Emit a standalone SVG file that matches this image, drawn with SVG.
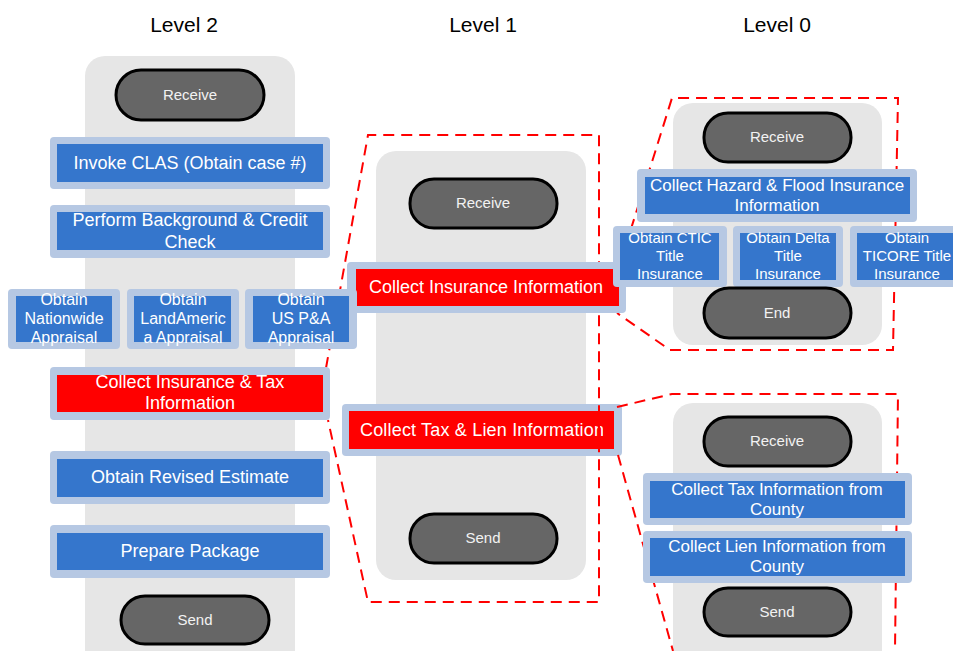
<svg xmlns="http://www.w3.org/2000/svg" width="953" height="651" viewBox="0 0 953 651">
<defs>
<style>
.panel{fill:#e6e6e6}
.pill{fill:#666666;stroke:#000;stroke-width:3}
.pt{font-family:"Liberation Sans",Arial,sans-serif;font-size:15px;fill:#f2f2f2;text-anchor:middle}
.outer{fill:#b6c8e3}
.blue{fill:#3576cc}
.red{fill:#ff0000}
.t18{font-family:"Liberation Sans",Arial,sans-serif;font-size:18px;fill:#fff;text-anchor:middle}
.t17{font-family:"Liberation Sans",Arial,sans-serif;font-size:17px;fill:#fff;text-anchor:middle}
.t16{font-family:"Liberation Sans",Arial,sans-serif;font-size:16px;fill:#fff;text-anchor:middle}
.t15{font-family:"Liberation Sans",Arial,sans-serif;font-size:15px;fill:#fff;text-anchor:middle}
.hdr{font-family:"Liberation Sans",Arial,sans-serif;font-size:21px;fill:#000;text-anchor:middle}
.dash{fill:none;stroke:#ff0000;stroke-width:2;stroke-dasharray:11 7}
</style>
<clipPath id="clipTL"><rect x="340" y="400" width="263" height="60"/></clipPath>
</defs>
<rect width="953" height="651" fill="#fff"/>

<text class="hdr" x="184" y="32">Level 2</text>
<text class="hdr" x="483" y="32">Level 1</text>
<text class="hdr" x="777" y="32">Level 0</text>

<g id="panels">
<rect class="panel" x="85" y="56" width="210" height="620" rx="20"/>
<rect class="panel" x="376" y="151" width="210" height="429" rx="20"/>
<rect class="panel" x="673" y="103" width="209" height="242" rx="20"/>
<rect class="panel" x="673" y="403" width="209" height="270" rx="20"/>
</g>

<g id="l1-collect-tax-lien">
<rect class="outer" x="342" y="404" width="280" height="52" rx="4"/>
<rect class="red" x="349" y="411" width="265" height="38"/>
<text class="t18" x="482" y="436" clip-path="url(#clipTL)" textLength="244">Collect Tax &amp; Lien Information</text>
</g>

<g id="connectors">
<path class="dash" d="M326,368 L368,135 L599,135 L599,602 L368,602 L328,420"/>
<path class="dash" d="M620,264 L672,98 L898,98 L893,350 L670,350 L617,313"/>
<path class="dash" d="M617,407 L672,394 L898,394 L895,651"/>
<path class="dash" d="M618,455 L673,651"/>
</g>

<!-- Level 2 -->
<g id="l2-receive"><rect class="pill" x="116" y="70" width="148" height="50" rx="25"/><text class="pt" x="190" y="100">Receive</text></g>
<g id="l2-invoke-clas">
<rect class="outer" x="50" y="137" width="280" height="52" rx="4"/>
<rect class="blue" x="57" y="144" width="266" height="38"/>
<text class="t18" x="190" y="169">Invoke CLAS (Obtain case #)</text>
</g>
<g id="l2-background">
<rect class="outer" x="50" y="205" width="280" height="53" rx="4"/>
<rect class="blue" x="57" y="212" width="266" height="38"/>
<text class="t18" x="190" y="226">Perform Background &amp; Credit</text>
<text class="t18" x="190" y="248">Check</text>
</g>
<g id="l2-nationwide">
<rect class="outer" x="8" y="289" width="112" height="60" rx="4"/>
<rect class="blue" x="16" y="296" width="96" height="46"/>
<text class="t16" x="64" y="305">Obtain</text>
<text class="t16" x="64" y="324">Nationwide</text>
<text class="t16" x="64" y="343">Appraisal</text>
</g>
<g id="l2-landamerica">
<rect class="outer" x="127" y="289" width="112" height="60" rx="4"/>
<rect class="blue" x="134" y="296" width="97" height="46"/>
<text class="t16" x="183" y="305">Obtain</text>
<text class="t16" x="183" y="324">LandAmeric</text>
<text class="t16" x="183" y="343">a Appraisal</text>
</g>
<g id="l1-collect-insurance">
<rect class="outer" x="347" y="262" width="279" height="51" rx="4"/>
<rect class="red" x="356" y="269" width="263" height="37"/>
<text class="t18" x="486" y="293">Collect Insurance Information</text>
</g>
<g id="l2-uspa">
<rect class="outer" x="245" y="289" width="112" height="60" rx="4"/>
<rect class="blue" x="253" y="296" width="96" height="46"/>
<text class="t16" x="301" y="305">Obtain</text>
<text class="t16" x="301" y="324">US P&amp;A</text>
<text class="t16" x="301" y="343">Appraisal</text>
</g>
<g id="l2-collect-ins-tax">
<rect class="outer" x="50" y="367" width="280" height="53" rx="4"/>
<rect class="red" x="57" y="375" width="266" height="37"/>
<text class="t18" x="190" y="388">Collect Insurance &amp; Tax</text>
<text class="t18" x="190" y="409">Information</text>
</g>
<g id="l2-revised">
<rect class="outer" x="50" y="451" width="280" height="53" rx="4"/>
<rect class="blue" x="57" y="459" width="266" height="38"/>
<text class="t18" x="190" y="483">Obtain Revised Estimate</text>
</g>
<g id="l2-prepare">
<rect class="outer" x="50" y="525" width="280" height="53" rx="4"/>
<rect class="blue" x="57" y="533" width="266" height="37"/>
<text class="t18" x="190" y="557">Prepare Package</text>
</g>
<g id="l2-send"><rect class="pill" x="121" y="596" width="148" height="48" rx="24"/><text class="pt" x="195" y="625">Send</text></g>

<!-- Level 1 -->
<g id="l1-receive"><rect class="pill" x="410" y="179" width="147" height="49" rx="24"/><text class="pt" x="483" y="208">Receive</text></g>
<g id="l1-send"><rect class="pill" x="410" y="514" width="147" height="49" rx="24"/><text class="pt" x="483" y="543">Send</text></g>

<!-- Level 0 top -->
<g id="l0a-receive"><rect class="pill" x="704" y="113" width="147" height="49" rx="24"/><text class="pt" x="777" y="142">Receive</text></g>
<g id="l0a-hazard">
<rect class="outer" x="637" y="169" width="280" height="53" rx="4"/>
<rect class="blue" x="645" y="177" width="265" height="37"/>
<text class="t17" x="777" y="191">Collect Hazard &amp; Flood Insurance</text>
<text class="t17" x="777" y="211">Information</text>
</g>
<g id="l0a-ctic">
<rect class="outer" x="613" y="226" width="114" height="61" rx="4"/>
<rect class="blue" x="620" y="233" width="99" height="47"/>
<text class="t15" x="670" y="243">Obtain CTIC</text>
<text class="t15" x="670" y="261">Title</text>
<text class="t15" x="670" y="279">Insurance</text>
</g>
<g id="l0a-delta">
<rect class="outer" x="733" y="226" width="110" height="61" rx="4"/>
<rect class="blue" x="740" y="233" width="96" height="47"/>
<text class="t15" x="788" y="243">Obtain Delta</text>
<text class="t15" x="788" y="261">Title</text>
<text class="t15" x="788" y="279">Insurance</text>
</g>
<g id="l0a-ticore">
<rect class="outer" x="850" y="226" width="110" height="61" rx="4"/>
<rect class="blue" x="857" y="233" width="100" height="47"/>
<text class="t15" x="907" y="243">Obtain</text>
<text class="t15" x="907" y="261">TICORE Title</text>
<text class="t15" x="907" y="279">Insurance</text>
</g>
<g id="l0a-end"><rect class="pill" x="704" y="288" width="147" height="50" rx="25"/><text class="pt" x="777" y="318">End</text></g>

<!-- Level 0 bottom -->
<g id="l0b-receive"><rect class="pill" x="704" y="417" width="147" height="49" rx="24"/><text class="pt" x="777" y="446">Receive</text></g>
<g id="l0b-tax">
<rect class="outer" x="643" y="473" width="269" height="52" rx="4"/>
<rect class="blue" x="650" y="481" width="255" height="37"/>
<text class="t17" x="777" y="495">Collect Tax Information from</text>
<text class="t17" x="777" y="515">County</text>
</g>
<g id="l0b-lien">
<rect class="outer" x="643" y="531" width="269" height="52" rx="4"/>
<rect class="blue" x="650" y="538" width="255" height="38"/>
<text class="t17" x="777" y="552">Collect Lien Information from</text>
<text class="t17" x="777" y="572">County</text>
</g>
<g id="l0b-send"><rect class="pill" x="704" y="588" width="147" height="48" rx="24"/><text class="pt" x="777" y="617">Send</text></g>
</svg>
